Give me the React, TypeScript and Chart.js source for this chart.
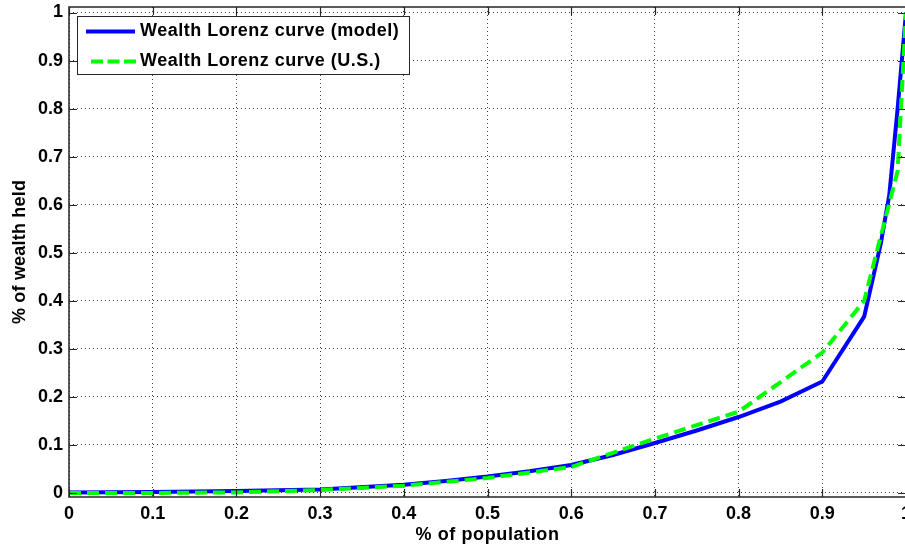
import React, { useEffect, useRef } from 'react';
import { Chart, registerables } from 'chart.js';

Chart.register(...registerables);

const xTicks = [0, 0.1, 0.2, 0.3, 0.4, 0.5, 0.6, 0.7, 0.8, 0.9, 1];
const yTicks = [0, 0.1, 0.2, 0.3, 0.4, 0.5, 0.6, 0.7, 0.8, 0.9, 1];

const modelLabel = 'Wealth Lorenz curve (model)';
const modelX = [0, 0.1, 0.2, 0.3, 0.4, 0.45, 0.5, 0.55, 0.6, 0.65, 0.7, 0.75, 0.8, 0.85, 0.9, 0.95, 0.97, 0.98, 0.99, 1];
const modelY = [0.001, 0.002, 0.004, 0.007, 0.017, 0.025, 0.034, 0.045, 0.058, 0.079, 0.104, 0.13, 0.158, 0.19, 0.232, 0.367, 0.52, 0.62, 0.8, 1];

const usLabel = 'Wealth Lorenz curve (U.S.)';
const usX = [0, 0.1, 0.2, 0.3, 0.4, 0.5, 0.6, 0.7, 0.8, 0.9, 0.95, 0.99, 1];
const usY = [0, 0, 0.001, 0.006, 0.015, 0.031, 0.054, 0.113, 0.169, 0.292, 0.4, 0.67, 1];

const xTitle = '% of population';
const yTitle = '% of wealth held';

const FONT = 'bold 18px "Liberation Sans", Arial, sans-serif';
const AXIS_COLOR = '#262626';

const fmt = (v: number) => String(Math.round(v * 10) / 10);

const matlabPlugin = {
  id: 'matlabDecor',
  afterDraw(chart: any) {
    const { ctx, chartArea } = chart;
    const { left, right, top, bottom } = chartArea;
    const xs = chart.scales.x;
    const ys = chart.scales.y;
    ctx.save();
    // box
    ctx.strokeStyle = AXIS_COLOR;
    ctx.lineWidth = 1.5;
    ctx.setLineDash([]);
    ctx.strokeRect(left, top, right - left, bottom - top);
    // inward ticks
    const tl = 8;
    ctx.lineWidth = 1.2;
    ctx.beginPath();
    xTicks.forEach((v) => {
      const px = Math.round(xs.getPixelForValue(v)) + 0.5;
      ctx.moveTo(px, bottom);
      ctx.lineTo(px, bottom - tl);
      ctx.moveTo(px, top);
      ctx.lineTo(px, top + tl);
    });
    yTicks.forEach((v) => {
      const py = Math.round(ys.getPixelForValue(v)) + 0.5;
      ctx.moveTo(left, py);
      ctx.lineTo(left + tl, py);
      ctx.moveTo(right, py);
      ctx.lineTo(right - tl, py);
    });
    ctx.stroke();

    // axis titles
    ctx.fillStyle = '#000';
    ctx.font = FONT;
    ctx.textAlign = 'center';
    ctx.textBaseline = 'middle';
    (ctx as any).letterSpacing = '0.6px';
    ctx.fillText(xTitle, (left + right) / 2, 535);
    ctx.save();
    ctx.translate(20, (top + bottom) / 2);
    ctx.rotate(-Math.PI / 2);
    (ctx as any).letterSpacing = '0.2px';
    ctx.fillText(yTitle, 0, 0);
    ctx.restore();

    // legend
    const lx = 77.5, ly = 16.5, lw = 332, lh = 58;
    ctx.fillStyle = '#fff';
    ctx.fillRect(lx, ly, lw, lh);
    ctx.strokeStyle = AXIS_COLOR;
    ctx.lineWidth = 1;
    ctx.strokeRect(lx, ly, lw, lh);
    ctx.lineWidth = 4;
    ctx.strokeStyle = '#0000ff';
    ctx.beginPath();
    ctx.moveTo(86, 31.5);
    ctx.lineTo(135, 31.5);
    ctx.stroke();
    ctx.strokeStyle = '#00ff00';
    ctx.setLineDash([12, 4.5]);
    ctx.beginPath();
    ctx.moveTo(91, 61.5);
    ctx.lineTo(136, 61.5);
    ctx.stroke();
    ctx.setLineDash([]);
    ctx.fillStyle = '#000';
    ctx.textAlign = 'left';
    ctx.textBaseline = 'middle';
    (ctx as any).letterSpacing = '0.5px';
    ctx.fillText(modelLabel, 140, 31.5);
    ctx.fillText(usLabel, 140, 61.5);
    (ctx as any).letterSpacing = '0px';
    ctx.restore();
  },
};

export default function App() {
  const ref = useRef<HTMLCanvasElement | null>(null);
  useEffect(() => {
    if (!ref.current) return;
    const tickFont = { family: '"Liberation Sans", Arial, sans-serif', size: 18, weight: 'bold' as const };
    const chart = new Chart(ref.current, {
      type: 'line',
      data: {
        datasets: [
          {
            label: modelLabel,
            data: modelX.map((x, i) => ({ x, y: modelY[i] })),
            borderColor: '#0000ff',
            backgroundColor: '#0000ff',
            borderWidth: 4,
            pointRadius: 0,
            tension: 0,
            fill: false,
            order: 2,
          },
          {
            label: usLabel,
            data: usX.map((x, i) => ({ x, y: usY[i] })),
            borderColor: '#00ff00',
            backgroundColor: '#00ff00',
            borderWidth: 4,
            borderDash: [12, 6],
            pointRadius: 0,
            tension: 0,
            fill: false,
            order: 1,
          },
        ],
      },
      options: {
        responsive: false,
        animation: false,
        devicePixelRatio: 1,
        layout: { padding: { top: 7, right: 24, left: 0, bottom: 0 } },
        plugins: { legend: { display: false }, tooltip: { enabled: false } },
        scales: {
          x: {
            type: 'linear',
            min: 0,
            max: 1,
            afterBuildTicks: (axis: any) => {
              axis.ticks = xTicks.map((v) => ({ value: v }));
            },
            afterFit: (axis: any) => {
              axis.height = 53;
              axis.paddingLeft = 0;
              axis.paddingRight = 0;
            },
            grid: { color: '#3a3a3a', lineWidth: 1, drawTicks: false },
            border: { display: false, dash: [1, 3] },
            ticks: {
              font: tickFont,
              color: '#000',
              padding: 6,
              maxRotation: 0,
              autoSkip: false,
              callback: (v: any) => fmt(Number(v)),
            },
          },
          y: {
            type: 'linear',
            min: -0.0085,
            max: 1.0115,
            afterBuildTicks: (axis: any) => {
              axis.ticks = yTicks.map((v) => ({ value: v }));
            },
            afterFit: (axis: any) => {
              axis.width = 69;
              axis.paddingTop = 0;
              axis.paddingBottom = 0;
            },
            grid: { color: '#3a3a3a', lineWidth: 1, drawTicks: false },
            border: { display: false, dash: [1, 3] },
            ticks: {
              font: tickFont,
              color: '#000',
              padding: 6,
              autoSkip: false,
              callback: (v: any) => fmt(Number(v)),
            },
          },
        },
      },
      plugins: [matlabPlugin],
    } as any);
    return () => chart.destroy();
  }, []);
  return (
    <div
      style={{
        position: 'fixed',
        left: 0,
        top: 0,
        width: 905,
        height: 550,
        overflow: 'hidden',
        background: '#fff',
      }}
    >
      <canvas ref={ref} width={930} height={550} style={{ display: 'block' }} />
    </div>
  );
}
